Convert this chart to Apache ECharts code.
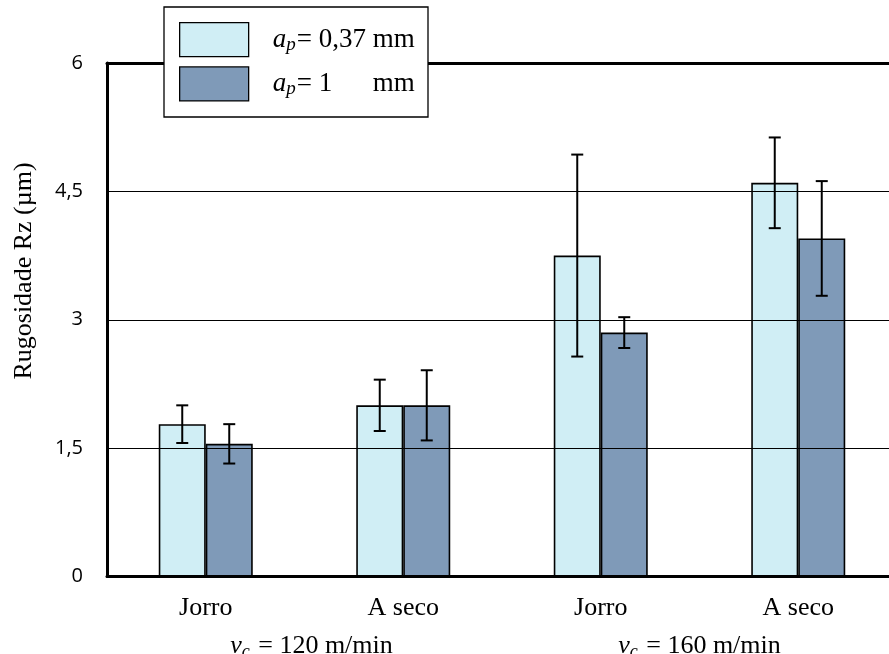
<!DOCTYPE html>
<html>
<head>
<meta charset="utf-8">
<script src="https://cdn.jsdelivr.net/npm/echarts@6/dist/echarts.min.js"></script>
<style>
  html, body { margin: 0; padding: 0; background: #fff; }
  #chart { width: 889px; height: 654px; }
</style>
</head>
<body>
<div id="chart"></div>
<script>
// Surface roughness Rz by lubrication condition and cutting speed
const categories = ['Jorro', 'A seco', 'Jorro', 'A seco'];
const speedGroups = ['120', '160'];
const seriesNames = ['a_p = 0,37 mm', 'a_p = 1 mm'];
const depthLabels = ['0,37', '1'];

const rzShallow = [1.78, 2.00, 3.75, 4.60];   // a_p = 0,37 mm
const rzDeep    = [1.55, 2.00, 2.85, 3.95];   // a_p = 1 mm
const errShallow = [0.22, 0.30, 1.18, 0.53];
const errDeep    = [0.23, 0.41, 0.18, 0.67];

const yTicks = [0, 1.5, 3, 4.5, 6];

const SERIF = '"Liberation Serif", "Times New Roman", serif';
const BAR_W = 47;
const colors = ['#d0eef5', '#7f9ab8'];

function errorData(vals, errs) {
  return vals.map((v, i) => [i, v - errs[i], v + errs[i]]);
}

function errorSeries(vals, errs, shift) {
  return {
    type: 'custom',
    z: 5,
    silent: true,
    data: errorData(vals, errs),
    encode: { x: 0, y: [1, 2] },
    renderItem: function (params, api) {
      const i = api.value(0);
      const lo = api.coord([i, api.value(1)]);
      const hi = api.coord([i, api.value(2)]);
      const x = lo[0] + shift * BAR_W / 2;
      const cap = 6;
      const style = { stroke: '#000', lineWidth: 2 };
      return {
        type: 'group',
        children: [
          { type: 'line', shape: { x1: x, y1: lo[1], x2: x, y2: hi[1] }, style: style },
          { type: 'line', shape: { x1: x - cap, y1: hi[1], x2: x + cap, y2: hi[1] }, style: style },
          { type: 'line', shape: { x1: x - cap, y1: lo[1], x2: x + cap, y2: lo[1] }, style: style }
        ]
      };
    }
  };
}

const legendRich = {
  a: { fontFamily: SERIF, fontStyle: 'italic', fontSize: 27, lineHeight: 30, padding: [0, 0, 0, 19], verticalAlign: 'middle' },
  p: { fontFamily: SERIF, fontStyle: 'italic', fontSize: 19, lineHeight: 12, verticalAlign: 'bottom', padding: [0, 1, 0, 0] },
  eq: { fontFamily: SERIF, fontSize: 27, lineHeight: 30, width: 76, verticalAlign: 'middle' },
  u: { fontFamily: SERIF, fontSize: 27, lineHeight: 30, verticalAlign: 'middle' }
};

const speedRich = {
  v: { fontFamily: SERIF, fontStyle: 'italic', fontSize: 26, lineHeight: 30, verticalAlign: 'middle' },
  c: { fontFamily: SERIF, fontStyle: 'italic', fontSize: 18, lineHeight: 12, verticalAlign: 'bottom', padding: [0, 2, 0, 0] },
  t: { fontFamily: SERIF, fontSize: 26, lineHeight: 30, verticalAlign: 'middle' }
};

const chart = echarts.init(document.getElementById('chart'), null, { renderer: 'canvas' });

chart.setOption({
  animation: false,
  backgroundColor: '#fff',
  grid: { left: 107, top: 63, right: -8, bottom: 77.5, outerBoundsMode: 'none', containLabel: false },
  legend: {
    data: seriesNames,
    orient: 'vertical',
    left: 179,
    top: 22,
    padding: 0,
    itemWidth: 69,
    itemHeight: 34,
    itemGap: 9,
    icon: 'rect',
    z: 20,
    itemStyle: { borderColor: '#000', borderWidth: 1.3 },
    formatter: function (name) {
      const k = seriesNames.indexOf(name);
      return '{a|a}{p|p}{eq|= ' + depthLabels[k] + '}{u|mm}';
    },
    textStyle: { color: '#000', rich: legendRich }
  },
  graphic: [
    {
      type: 'rect',
      z: 15,
      shape: { x: 164, y: 7, width: 264, height: 110 },
      style: { fill: '#fff', stroke: '#000', lineWidth: 1.3 }
    },
    {
      type: 'text',
      z: 15,
      x: 24,
      y: 271,
      rotation: Math.PI / 2,
      style: {
        text: 'Rugosidade Rz (µm)',
        font: '26px ' + SERIF,
        fill: '#000',
        align: 'center',
        verticalAlign: 'middle'
      }
    }
  ],
  xAxis: [
    {
      type: 'category',
      data: categories,
      position: 'bottom',
      axisLine: { lineStyle: { color: '#000', width: 3 } },
      axisTick: { show: false },
      axisLabel: {
        color: '#000',
        fontFamily: SERIF,
        fontSize: 26,
        lineHeight: 26,
        margin: 19
      },
      z: 4
    },
    {
      type: 'category',
      data: categories,
      position: 'top',
      axisLine: { lineStyle: { color: '#000', width: 3 } },
      axisTick: { show: false },
      axisLabel: { show: false },
      z: 4
    },
    {
      type: 'category',
      data: [
        { value: speedGroups[0], textStyle: { padding: [0, 0, 0, 14] } },
        speedGroups[1]
      ],
      position: 'bottom',
      offset: 55,
      axisLine: { show: false },
      axisTick: { show: false },
      axisLabel: {
        color: '#000',
        margin: 0,
        formatter: function (v) { return '{v|v}{c|c}{t| = ' + v + ' m/min}'; },
        rich: speedRich
      }
    }
  ],
  yAxis: {
    type: 'value',
    min: yTicks[0],
    max: yTicks[yTicks.length - 1],
    interval: yTicks[1] - yTicks[0],
    axisLine: { show: true, lineStyle: { color: '#000', width: 3 } },
    axisTick: { show: false },
    axisLabel: {
      color: '#000',
      fontFamily: '"Open Sans", "Liberation Sans", sans-serif',
      fontSize: 20,
      margin: 24,
      formatter: function (v) { return String(v).replace('.', ','); }
    },
    splitLine: { lineStyle: { color: '#000', width: 1.2 } },
    z: 4
  },
  series: [
    {
      name: seriesNames[0],
      type: 'bar',
      data: rzShallow,
      barWidth: BAR_W,
      barGap: '0%',
      itemStyle: { color: colors[0], borderColor: '#000', borderWidth: 1.6 },
      z: 3
    },
    {
      name: seriesNames[1],
      type: 'bar',
      data: rzDeep,
      barWidth: BAR_W,
      barGap: '0%',
      itemStyle: { color: colors[1], borderColor: '#000', borderWidth: 1.6 },
      z: 3
    },
    errorSeries(rzShallow, errShallow, -1),
    errorSeries(rzDeep, errDeep, 1)
  ]
});
</script>
</body>
</html>
